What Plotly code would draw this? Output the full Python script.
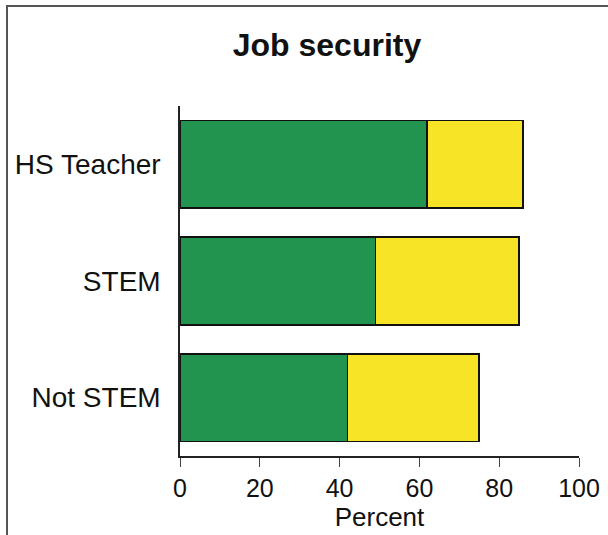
import plotly.graph_objects as go

categories = ["HS Teacher", "STEM", "Not STEM"]
green_values = [62, 49, 42]
yellow_values = [24, 36, 33]
x_ticks = [0, 20, 40, 60, 80, 100]

FONT = "Liberation Sans, Arial, sans-serif"

W, H = 608, 535
L, R, T, B = 180, 29, 106, 79
PW, PH = W - L - R, H - T - B


def px_x(px):
    return (px - L) / PW


def px_y(py):
    return (T + PH - py) / PH


fig = go.Figure()
fig.add_trace(go.Bar(
    y=categories, x=green_values, orientation="h",
    marker=dict(color="#229450", line=dict(color="#111111", width=1.8)),
    width=0.75, showlegend=False, hoverinfo="x+y"))
fig.add_trace(go.Bar(
    y=categories, x=yellow_values, orientation="h",
    marker=dict(color="#F8E427", line=dict(color="#111111", width=1.8)),
    width=0.75, showlegend=False, hoverinfo="x+y"))

border = dict(color="#555555", width=2)

fig.update_layout(
    width=W, height=H,
    barmode="stack",
    paper_bgcolor="white", plot_bgcolor="white",
    margin=dict(l=L, r=R, t=T, b=B, pad=0, autoexpand=False),
    font=dict(family=FONT, color="#111111", size=24),
    title=dict(text="<b>Job security</b>", x=327 / W, xanchor="center",
               y=1 - 45 / H, yanchor="middle",
               font=dict(family=FONT, size=32, color="#111111")),
    xaxis=dict(range=[0, 100], tickvals=x_ticks, ticks="outside", ticklen=9,
               tickcolor="#444444", tickwidth=1, showline=True, linecolor="#222222",
               linewidth=1.5, showgrid=False, zeroline=False, automargin=False,
               title=dict(text="Percent", standoff=2, font=dict(size=26)),
               tickfont=dict(size=25)),
    yaxis=dict(range=[2.5, -0.5], autorange=False, showline=True,
               linecolor="#222222", linewidth=1.5, ticks="", showgrid=False,
               zeroline=False, automargin=False, ticklabelstandoff=12,
               tickfont=dict(size=28)),
    shapes=[
        dict(type="rect", xref="paper", yref="paper", layer="above",
             x0=px_x(7), x1=px_x(640), y0=px_y(560), y1=px_y(6),
             line=border, fillcolor="rgba(0,0,0,0)"),
    ],
)

fig.write_html(
    "out.html",
    config={"displayModeBar": False},
    post_script="document.body.style.margin='0';document.body.style.overflow='hidden';",
)
